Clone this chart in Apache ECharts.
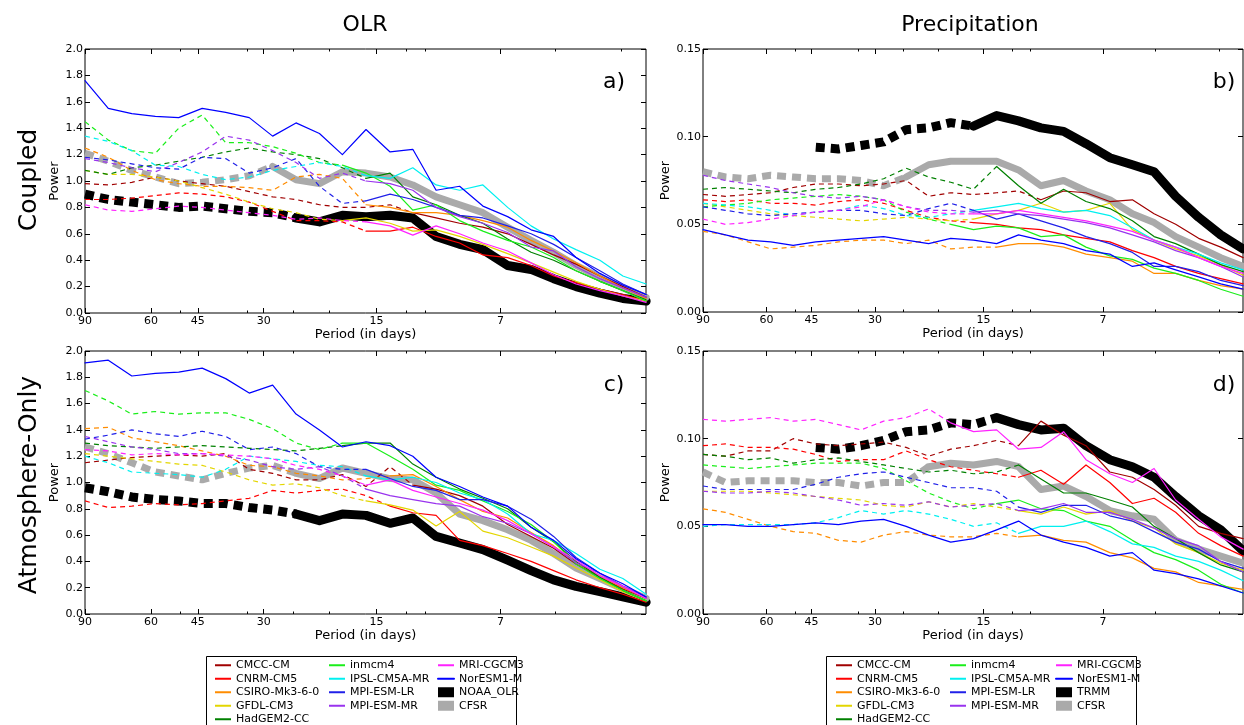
<!DOCTYPE html>
<html>
<head>
<meta charset="utf-8">
<script src="https://cdn.jsdelivr.net/npm/echarts@6/dist/echarts.min.js"></script>
<style>
  html, body { margin: 0; padding: 0; background: #fff; }
  #chart { width: 1244px; height: 725px; }
</style>
</head>
<body>
<div id="chart"></div>
<script>
// sample periods (days), 90 d on the left down to ~2.9 d on the right
const periods = [90, 78, 67.5, 58.4, 50.6, 43.8, 37.9, 32.8, 28.4, 24.6, 21.3, 18.5, 16, 13.8, 12, 10.4, 9, 7.8, 6.7, 5.8, 5.05, 4.4, 3.8, 3.3, 2.86];
const xMajor = [90, 60, 45, 30, 15, 7];
const xMinor = [50, 33.3, 25, 20, 12.5, 11.1, 5, 3.33];

const models = ['CMCC-CM', 'CNRM-CM5', 'CSIRO-Mk3-6-0', 'GFDL-CM3', 'HadGEM2-CC', 'inmcm4', 'IPSL-CM5A-MR', 'MPI-ESM-LR', 'MPI-ESM-MR', 'MRI-CGCM3', 'NorESM1-M'];
const modelColors = ['#a00000', '#ff0000', '#ff8c00', '#e3d600', '#008000', '#1aee1a', '#00f0f0', '#2020e8', '#9933ee', '#ff22ff', '#0000ff'];

// a) OLR, coupled
const aCMCC   = [0.98, 0.97, 0.99, 1.03, 1.00, 0.98, 0.96, 0.92, 0.88, 0.86, 0.82, 0.80, 0.80, 0.82, 0.76, 0.72, 0.68, 0.65, 0.60, 0.52, 0.44, 0.37, 0.28, 0.20, 0.12];
const aCNRM   = [0.86, 0.86, 0.87, 0.89, 0.91, 0.90, 0.88, 0.84, 0.77, 0.70, 0.70, 0.69, 0.62, 0.62, 0.65, 0.58, 0.53, 0.44, 0.42, 0.36, 0.28, 0.23, 0.18, 0.14, 0.09];
const aCSIRO  = [1.25, 1.18, 1.08, 1.01, 0.98, 0.96, 0.96, 0.95, 0.93, 1.03, 1.05, 1.02, 0.82, 0.80, 0.76, 0.76, 0.74, 0.70, 0.65, 0.55, 0.47, 0.38, 0.28, 0.19, 0.11];
const aGFDL   = [1.08, 1.05, 1.05, 1.03, 1.00, 0.95, 0.90, 0.84, 0.79, 0.76, 0.71, 0.70, 0.72, 0.68, 0.62, 0.63, 0.58, 0.52, 0.45, 0.38, 0.31, 0.24, 0.18, 0.13, 0.09];
const aHadGEM = [1.08, 1.05, 1.10, 1.12, 1.15, 1.18, 1.22, 1.25, 1.22, 1.20, 1.17, 1.10, 1.02, 1.06, 0.88, 0.82, 0.74, 0.68, 0.56, 0.46, 0.40, 0.32, 0.24, 0.17, 0.10];
const aINM    = [1.45, 1.31, 1.23, 1.21, 1.40, 1.50, 1.29, 1.29, 1.26, 1.21, 1.14, 1.12, 1.06, 0.96, 0.78, 0.82, 0.70, 0.62, 0.55, 0.50, 0.42, 0.32, 0.24, 0.17, 0.09];
const aIPSL   = [1.34, 1.30, 1.23, 1.12, 1.11, 1.05, 1.01, 1.03, 1.08, 1.11, 1.14, 1.11, 1.04, 1.02, 1.10, 0.97, 0.93, 0.97, 0.80, 0.66, 0.56, 0.48, 0.40, 0.28, 0.22];
const aMPILR  = [1.18, 1.16, 1.13, 1.10, 1.09, 1.18, 1.17, 1.06, 1.10, 1.17, 0.96, 0.83, 0.85, 0.90, 0.86, 0.80, 0.74, 0.72, 0.66, 0.60, 0.52, 0.42, 0.32, 0.22, 0.14];
const aMPIMR  = [1.17, 1.14, 1.10, 1.07, 1.14, 1.22, 1.34, 1.31, 1.23, 1.14, 1.02, 1.06, 1.00, 0.98, 0.93, 0.80, 0.73, 0.68, 0.61, 0.50, 0.47, 0.35, 0.26, 0.19, 0.12];
const aMRI    = [0.82, 0.78, 0.77, 0.79, 0.81, 0.80, 0.78, 0.76, 0.74, 0.71, 0.72, 0.70, 0.69, 0.66, 0.59, 0.66, 0.60, 0.53, 0.47, 0.38, 0.29, 0.22, 0.17, 0.13, 0.08];
const aNorESM = [1.76, 1.55, 1.51, 1.49, 1.48, 1.55, 1.52, 1.48, 1.34, 1.44, 1.36, 1.20, 1.39, 1.22, 1.24, 0.93, 0.96, 0.81, 0.73, 0.63, 0.58, 0.42, 0.30, 0.21, 0.14];
const aNOAA   = [0.90, 0.86, 0.84, 0.82, 0.80, 0.81, 0.79, 0.77, 0.76, 0.72, 0.69, 0.74, 0.73, 0.74, 0.72, 0.58, 0.52, 0.48, 0.36, 0.33, 0.26, 0.20, 0.15, 0.11, 0.09];
const aCFSR   = [1.21, 1.15, 1.08, 1.03, 0.98, 0.99, 1.01, 1.04, 1.11, 1.01, 0.98, 1.07, 1.06, 1.03, 0.97, 0.88, 0.82, 0.76, 0.65, 0.55, 0.46, 0.36, 0.27, 0.19, 0.12];
// index where each curve turns from dashed to solid (models..., obs, CFSR)
const aSolid  = [14, 12, 12, 11, 12, 11, 12, 12, 12, 12, 0, 9, 8];

// b) precipitation, coupled
const bCMCC   = [0.067, 0.066, 0.067, 0.068, 0.071, 0.073, 0.073, 0.072, 0.073, 0.075, 0.066, 0.068, 0.067, 0.068, 0.069, 0.064, 0.069, 0.068, 0.063, 0.064, 0.056, 0.050, 0.042, 0.037, 0.031];
const bCNRM   = [0.064, 0.063, 0.064, 0.062, 0.062, 0.061, 0.063, 0.064, 0.062, 0.058, 0.054, 0.052, 0.051, 0.050, 0.048, 0.047, 0.044, 0.042, 0.040, 0.035, 0.031, 0.026, 0.022, 0.019, 0.016];
const bCSIRO  = [0.046, 0.044, 0.040, 0.036, 0.037, 0.038, 0.040, 0.041, 0.041, 0.039, 0.041, 0.036, 0.037, 0.037, 0.039, 0.039, 0.037, 0.033, 0.031, 0.029, 0.022, 0.022, 0.018, 0.015, 0.013];
const bGFDL   = [0.062, 0.060, 0.058, 0.056, 0.055, 0.054, 0.053, 0.052, 0.053, 0.054, 0.053, 0.052, 0.053, 0.056, 0.058, 0.062, 0.057, 0.058, 0.062, 0.047, 0.041, 0.036, 0.032, 0.027, 0.021];
const bHadGEM = [0.070, 0.071, 0.070, 0.069, 0.068, 0.070, 0.071, 0.073, 0.076, 0.082, 0.077, 0.074, 0.070, 0.083, 0.072, 0.062, 0.070, 0.063, 0.059, 0.052, 0.043, 0.039, 0.033, 0.027, 0.023];
const bINM    = [0.060, 0.061, 0.062, 0.064, 0.065, 0.066, 0.067, 0.066, 0.064, 0.057, 0.053, 0.050, 0.047, 0.049, 0.048, 0.043, 0.044, 0.037, 0.032, 0.030, 0.025, 0.022, 0.018, 0.013, 0.009];
const bIPSL   = [0.062, 0.061, 0.060, 0.058, 0.055, 0.057, 0.058, 0.061, 0.059, 0.055, 0.054, 0.056, 0.058, 0.060, 0.062, 0.059, 0.057, 0.058, 0.055, 0.048, 0.041, 0.037, 0.033, 0.028, 0.024];
const bMPILR  = [0.060, 0.058, 0.056, 0.055, 0.056, 0.057, 0.058, 0.058, 0.056, 0.055, 0.059, 0.062, 0.058, 0.053, 0.056, 0.052, 0.048, 0.043, 0.039, 0.034, 0.026, 0.026, 0.023, 0.018, 0.015];
const bMPIMR  = [0.078, 0.075, 0.073, 0.071, 0.068, 0.066, 0.065, 0.066, 0.064, 0.060, 0.058, 0.058, 0.057, 0.058, 0.056, 0.055, 0.053, 0.051, 0.048, 0.044, 0.040, 0.035, 0.031, 0.026, 0.020];
const bMRI    = [0.053, 0.050, 0.051, 0.053, 0.055, 0.057, 0.058, 0.060, 0.064, 0.060, 0.057, 0.056, 0.056, 0.056, 0.058, 0.056, 0.054, 0.052, 0.049, 0.046, 0.041, 0.037, 0.031, 0.026, 0.022];
const bNorESM = [0.047, 0.044, 0.041, 0.040, 0.038, 0.040, 0.041, 0.042, 0.043, 0.041, 0.039, 0.042, 0.041, 0.039, 0.044, 0.041, 0.039, 0.035, 0.033, 0.026, 0.028, 0.024, 0.020, 0.016, 0.013];
const bTRMM   = [null, null, null, null, null, 0.094, 0.093, 0.095, 0.097, 0.104, 0.105, 0.108, 0.106, 0.112, 0.109, 0.105, 0.103, 0.096, 0.088, 0.084, 0.080, 0.066, 0.054, 0.044, 0.036];
const bCFSR   = [0.080, 0.077, 0.076, 0.078, 0.077, 0.076, 0.076, 0.075, 0.072, 0.077, 0.084, 0.086, 0.086, 0.086, 0.081, 0.072, 0.075, 0.069, 0.064, 0.056, 0.051, 0.043, 0.037, 0.031, 0.026];
const bSolid  = [15, 12, 13, 12, 13, 11, 12, 12, 12, 12, 0, 12, 9];

// c) OLR, atmosphere-only
const cCMCC   = [1.15, 1.17, 1.19, 1.20, 1.21, 1.20, 1.22, 1.10, 1.07, 1.02, 1.02, 1.06, 0.97, 1.12, 0.98, 0.95, 0.90, 0.82, 0.68, 0.59, 0.50, 0.38, 0.28, 0.19, 0.12];
const cCNRM   = [0.86, 0.81, 0.82, 0.84, 0.83, 0.84, 0.86, 0.88, 0.94, 0.92, 0.94, 0.95, 0.90, 0.82, 0.77, 0.75, 0.56, 0.52, 0.46, 0.40, 0.33, 0.26, 0.20, 0.15, 0.09];
const cCSIRO  = [1.41, 1.42, 1.34, 1.31, 1.28, 1.24, 1.20, 1.13, 1.12, 1.07, 1.05, 1.02, 1.03, 1.05, 1.06, 0.97, 0.87, 0.78, 0.73, 0.62, 0.52, 0.39, 0.29, 0.20, 0.12];
const cGFDL   = [1.22, 1.20, 1.18, 1.16, 1.14, 1.13, 1.08, 1.02, 0.98, 0.99, 0.96, 0.90, 0.86, 0.83, 0.79, 0.67, 0.78, 0.63, 0.58, 0.51, 0.44, 0.35, 0.26, 0.17, 0.10];
const cHadGEM = [1.30, 1.28, 1.27, 1.26, 1.27, 1.28, 1.27, 1.26, 1.25, 1.24, 1.26, 1.28, 1.30, 1.30, 1.14, 1.04, 0.95, 0.88, 0.80, 0.66, 0.55, 0.40, 0.28, 0.18, 0.10];
const cINM    = [1.70, 1.62, 1.52, 1.54, 1.52, 1.53, 1.53, 1.48, 1.41, 1.30, 1.25, 1.30, 1.30, 1.20, 1.10, 0.98, 0.94, 0.86, 0.78, 0.68, 0.55, 0.38, 0.27, 0.18, 0.10];
const cIPSL   = [1.20, 1.15, 1.08, 1.07, 1.06, 1.04, 1.10, 1.20, 1.18, 1.16, 1.13, 1.12, 1.05, 1.02, 1.04, 1.00, 0.92, 0.87, 0.76, 0.61, 0.56, 0.46, 0.34, 0.27, 0.15];
const cMPILR  = [1.33, 1.36, 1.40, 1.37, 1.35, 1.39, 1.35, 1.25, 1.27, 1.22, 1.12, 1.10, 1.10, 1.03, 0.97, 0.94, 0.87, 0.87, 0.82, 0.72, 0.59, 0.43, 0.31, 0.21, 0.13];
const cMPIMR  = [1.35, 1.31, 1.27, 1.25, 1.22, 1.22, 1.20, 1.17, 1.12, 1.10, 1.12, 1.05, 0.95, 0.90, 0.87, 0.84, 0.82, 0.74, 0.69, 0.61, 0.51, 0.39, 0.31, 0.21, 0.12];
const cMRI    = [1.25, 1.24, 1.21, 1.22, 1.21, 1.22, 1.21, 1.20, 1.18, 1.13, 1.10, 1.05, 0.98, 1.02, 0.94, 0.89, 0.84, 0.79, 0.71, 0.61, 0.51, 0.41, 0.29, 0.21, 0.12];
const cNorESM = [1.91, 1.93, 1.81, 1.83, 1.84, 1.87, 1.79, 1.68, 1.74, 1.52, 1.40, 1.27, 1.31, 1.28, 1.20, 1.04, 0.97, 0.89, 0.82, 0.66, 0.56, 0.42, 0.31, 0.23, 0.13];
const cNOAA   = [0.96, 0.93, 0.89, 0.87, 0.86, 0.84, 0.84, 0.81, 0.79, 0.76, 0.71, 0.76, 0.75, 0.69, 0.73, 0.59, 0.54, 0.49, 0.41, 0.33, 0.26, 0.21, 0.17, 0.13, 0.09];
const cCFSR   = [1.27, 1.22, 1.15, 1.08, 1.05, 1.02, 1.07, 1.11, 1.13, 1.07, 1.03, 1.11, 1.07, 1.03, 1.02, 0.92, 0.76, 0.71, 0.64, 0.56, 0.46, 0.35, 0.27, 0.19, 0.12];
const cSolid  = [14, 13, 13, 12, 11, 11, 12, 12, 12, 12, 0, 9, 9];

// d) precipitation, atmosphere-only
const dCMCC   = [0.091, 0.090, 0.093, 0.093, 0.100, 0.097, 0.096, 0.097, 0.098, 0.095, 0.090, 0.094, 0.096, 0.099, 0.096, 0.110, 0.102, 0.096, 0.081, 0.078, 0.071, 0.062, 0.050, 0.046, 0.043];
const dCNRM   = [0.096, 0.097, 0.095, 0.095, 0.094, 0.091, 0.087, 0.088, 0.088, 0.093, 0.088, 0.084, 0.082, 0.080, 0.078, 0.082, 0.074, 0.085, 0.075, 0.063, 0.066, 0.058, 0.046, 0.039, 0.033];
const dCSIRO  = [0.060, 0.058, 0.054, 0.050, 0.047, 0.046, 0.042, 0.041, 0.045, 0.047, 0.045, 0.044, 0.044, 0.046, 0.044, 0.045, 0.042, 0.041, 0.035, 0.032, 0.026, 0.024, 0.018, 0.016, 0.014];
const dGFDL   = [0.070, 0.070, 0.070, 0.069, 0.068, 0.067, 0.066, 0.065, 0.062, 0.061, 0.064, 0.061, 0.063, 0.061, 0.059, 0.057, 0.061, 0.057, 0.059, 0.053, 0.049, 0.040, 0.035, 0.029, 0.025];
const dHadGEM = [0.091, 0.090, 0.088, 0.089, 0.086, 0.088, 0.089, 0.087, 0.085, 0.083, 0.081, 0.082, 0.080, 0.081, 0.085, 0.077, 0.069, 0.069, 0.065, 0.061, 0.050, 0.043, 0.035, 0.028, 0.024];
const dINM    = [0.085, 0.084, 0.083, 0.084, 0.085, 0.086, 0.086, 0.086, 0.083, 0.076, 0.069, 0.064, 0.060, 0.063, 0.065, 0.060, 0.059, 0.053, 0.050, 0.042, 0.035, 0.031, 0.025, 0.017, 0.012];
const dIPSL   = [0.050, 0.051, 0.051, 0.051, 0.051, 0.052, 0.055, 0.059, 0.057, 0.059, 0.057, 0.054, 0.050, 0.052, 0.046, 0.050, 0.050, 0.053, 0.047, 0.040, 0.038, 0.033, 0.030, 0.025, 0.019];
const dMPILR  = [0.073, 0.071, 0.071, 0.071, 0.071, 0.074, 0.078, 0.080, 0.081, 0.078, 0.075, 0.072, 0.072, 0.070, 0.061, 0.058, 0.062, 0.062, 0.056, 0.053, 0.047, 0.041, 0.037, 0.030, 0.026];
const dMPIMR  = [0.070, 0.069, 0.069, 0.070, 0.069, 0.067, 0.065, 0.062, 0.063, 0.062, 0.064, 0.061, 0.062, 0.063, 0.059, 0.060, 0.063, 0.058, 0.058, 0.054, 0.049, 0.043, 0.039, 0.030, 0.024];
const dMRI    = [0.111, 0.110, 0.111, 0.112, 0.110, 0.111, 0.108, 0.105, 0.110, 0.112, 0.117, 0.109, 0.104, 0.105, 0.094, 0.095, 0.104, 0.088, 0.080, 0.075, 0.083, 0.065, 0.054, 0.044, 0.037];
const dNorESM = [0.051, 0.051, 0.050, 0.050, 0.051, 0.052, 0.051, 0.053, 0.054, 0.050, 0.045, 0.041, 0.043, 0.048, 0.053, 0.045, 0.041, 0.038, 0.033, 0.035, 0.025, 0.023, 0.020, 0.016, 0.012];
const dTRMM   = [null, null, null, null, null, 0.095, 0.094, 0.096, 0.099, 0.104, 0.105, 0.109, 0.108, 0.112, 0.108, 0.105, 0.106, 0.096, 0.088, 0.084, 0.078, 0.067, 0.056, 0.048, 0.036];
const dCFSR   = [0.081, 0.075, 0.076, 0.076, 0.076, 0.075, 0.075, 0.073, 0.075, 0.075, 0.084, 0.086, 0.085, 0.087, 0.084, 0.071, 0.073, 0.067, 0.059, 0.056, 0.054, 0.042, 0.037, 0.033, 0.029];
const dSolid  = [14, 14, 14, 14, 14, 13, 14, 14, 14, 11, 0, 13, 10];

const FONT = 'DejaVu Sans';
const chart = echarts.init(document.getElementById('chart'));

const panels = [
  { box: {left: 85, top: 49, width: 561, height: 264}, ymax: 2, step: 0.2, digits: 1, nameGap: 24, obsName: 'NOAA_OLR',
    curves: [aCMCC, aCNRM, aCSIRO, aGFDL, aHadGEM, aINM, aIPSL, aMPILR, aMPIMR, aMRI, aNorESM], obs: aNOAA, cfsr: aCFSR, solid: aSolid },
  { box: {left: 703, top: 49, width: 540, height: 263}, ymax: 0.15, step: 0.05, digits: 2, nameGap: 30, obsName: 'TRMM',
    curves: [bCMCC, bCNRM, bCSIRO, bGFDL, bHadGEM, bINM, bIPSL, bMPILR, bMPIMR, bMRI, bNorESM], obs: bTRMM, cfsr: bCFSR, solid: bSolid },
  { box: {left: 85, top: 351, width: 561, height: 263}, ymax: 2, step: 0.2, digits: 1, nameGap: 24, obsName: 'NOAA_OLR',
    curves: [cCMCC, cCNRM, cCSIRO, cGFDL, cHadGEM, cINM, cIPSL, cMPILR, cMPIMR, cMRI, cNorESM], obs: cNOAA, cfsr: cCFSR, solid: cSolid },
  { box: {left: 703, top: 351, width: 540, height: 263}, ymax: 0.15, step: 0.05, digits: 2, nameGap: 30, obsName: 'TRMM',
    curves: [dCMCC, dCNRM, dCSIRO, dGFDL, dHadGEM, dINM, dIPSL, dMPILR, dMPIMR, dMRI, dNorESM], obs: dTRMM, cfsr: dCFSR, solid: dSolid }
];

function pts(vals, from, to) {
  const out = [];
  for (let i = from; i <= to; i++) {
    if (vals[i] != null) out.push([periods[i], vals[i]]);
  }
  return out;
}

const grid = [], xAxis = [], yAxis = [], series = [];

function addCurve(g, name, color, vals, split, width, dash) {
  const common = {
    type: 'line', name: name, xAxisIndex: g * 4, yAxisIndex: g * 2,
    symbol: 'none', silent: true, animation: false,
    itemStyle: {color: color}
  };
  if (split > 0) {
    series.push(Object.assign({}, common, {
      data: pts(vals, 0, split),
      lineStyle: {color: color, width: width, type: dash, cap: 'butt', join: 'round'}
    }));
  }
  series.push(Object.assign({}, common, {
    data: pts(vals, split, vals.length - 1),
    lineStyle: {color: color, width: width, type: 'solid', cap: 'round', join: 'round'}
  }));
}

panels.forEach(function (p, g) {
  grid.push(Object.assign({show: true, borderColor: '#000', borderWidth: 1, backgroundColor: 'transparent',
    containLabel: false, outerBoundsMode: 'none'}, p.box));

  const xBase = {gridIndex: g, type: 'log', inverse: true, min: 2.862, max: 90,
    axisLine: {show: false}, splitLine: {show: false}, minorTick: {show: false}, axisLabel: {show: false}};
  const tick = function (vals, len) {
    return {show: true, inside: true, length: len, customValues: vals, lineStyle: {color: '#000', width: 1}};
  };
  xAxis.push(Object.assign({}, xBase, {
    position: 'bottom', axisTick: tick(xMajor, 5),
    name: 'Period (in days)', nameLocation: 'middle', nameGap: 14,
    nameTextStyle: {fontFamily: FONT, fontSize: 13, color: '#000'},
    axisLabel: {show: true, customValues: xMajor, formatter: function (v) { return String(Math.round(v)); },
      fontFamily: FONT, fontSize: 11, color: '#000', margin: 3}
  }));
  xAxis.push(Object.assign({}, xBase, {position: 'bottom', axisTick: tick(xMinor, 2.5)}));
  xAxis.push(Object.assign({}, xBase, {position: 'top', axisTick: tick(xMajor, 5)}));
  xAxis.push(Object.assign({}, xBase, {position: 'top', axisTick: tick(xMinor, 2.5)}));

  const yBase = {gridIndex: g, type: 'value', min: 0, max: p.ymax, interval: p.step,
    splitLine: {show: false}, axisLine: {show: false},
    axisTick: {show: true, inside: true, length: 5, lineStyle: {color: '#000', width: 1}}};
  yAxis.push(Object.assign({}, yBase, {
    position: 'left', name: 'Power', nameLocation: 'middle', nameGap: p.nameGap,
    nameTextStyle: {fontFamily: FONT, fontSize: 13, color: '#000'},
    axisLabel: {formatter: function (v) { return v.toFixed(p.digits); },
      fontFamily: FONT, fontSize: 11, color: '#000', margin: 2}
  }));
  yAxis.push(Object.assign({}, yBase, {position: 'right', axisLabel: {show: false}}));

  // observations underneath, models on top
  addCurve(g, p.obsName, '#000000', p.obs, p.solid[11], 9, [9, 6]);
  addCurve(g, 'CFSR', '#aaaaaa', p.cfsr, p.solid[12], 7, [9, 6]);
  p.curves.forEach(function (vals, k) {
    addCurve(g, models[k], modelColors[k], vals, p.solid[k], 1.2, [5, 4]);
  });
});

const legend = [];
[[214, 328, 437, 'NOAA_OLR'], [835, 949, 1055, 'TRMM']].forEach(function (row) {
  const obs = row[3];
  const cols = [models.slice(0, 5), models.slice(5, 9), [models[9], models[10], obs, 'CFSR']];
  [row[0], row[1], row[2]].forEach(function (x, k) {
    legend.push({
      left: x, top: 659, height: 120, orient: 'vertical', padding: 0,
      itemWidth: 16, itemHeight: 10, itemGap: 1, selectedMode: false,
      textStyle: {fontFamily: FONT, fontSize: 11, color: '#000', lineHeight: 12.5},
      lineStyle: {width: 2, type: 'solid'},
      data: cols[k].map(function (n) {
        return (n === obs || n === 'CFSR') ? {name: n, icon: 'rect'} : {name: n, itemStyle: {opacity: 0}};
      })
    });
  });
});

function label(text, x, y, size, rot) {
  return {
    type: 'text', x: x, y: y, rotation: rot || 0, silent: true,
    style: {text: text, font: size + 'px ' + FONT, fontSize: size, fontFamily: FONT, fill: '#000',
      align: 'center', verticalAlign: 'middle', textAlign: 'center', textVerticalAlign: 'middle'}
  };
}

const graphic = [
  label('OLR', 365, 25, 22),
  label('Precipitation', 970, 25, 22),
  label('Coupled', 29, 180, 25, Math.PI / 2),
  label('Atmosphere-Only', 29, 485, 25, Math.PI / 2),
  label('a)', 614, 82, 22),
  label('b)', 1224, 82, 22),
  label('c)', 614, 385, 22),
  label('d)', 1224, 385, 22),
  {type: 'rect', silent: true, shape: {x: 206.5, y: 656.5, width: 310, height: 90},
    style: {fill: 'rgba(0,0,0,0)', stroke: '#000', lineWidth: 1}},
  {type: 'rect', silent: true, shape: {x: 826.5, y: 656.5, width: 310, height: 90},
    style: {fill: 'rgba(0,0,0,0)', stroke: '#000', lineWidth: 1}}
];

chart.setOption({
  backgroundColor: '#fff',
  animation: false,
  textStyle: {fontFamily: FONT},
  grid: grid,
  xAxis: xAxis,
  yAxis: yAxis,
  legend: legend,
  graphic: graphic,
  series: series
});
</script>
</body>
</html>
